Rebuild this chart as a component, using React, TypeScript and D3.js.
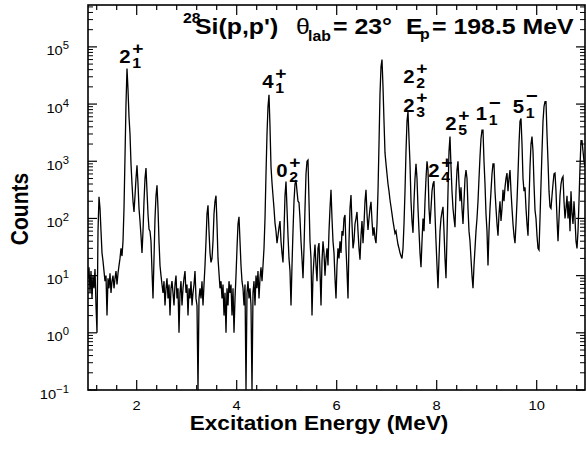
import React from "react";
import * as d3 from "d3";

const W = 586;
const H = 456;
const FONT = "'Liberation Sans', Arial, Helvetica, sans-serif";
const SX = 1.13; // horizontal stretch of the lettering

// spectrum: counts per channel, channel width in MeV
const channelWidth = 0.02;
const segStart = [1.026, 2.486, 4.546, 6.346, 8.206, 9.646];
const spec1 = [
  9, 14, 5, 12, 4, 10, 6, 13, 3, 1,
  60, 240, 150, 60, 25, 18,
  12, 8, 10, 2, 9, 6, 11, 5, 8, 10, 6, 9, 12, 7, 11,
  15, 20, 30, 22, 40,
  150, 1200, 10000, 42000, 18000, 6000, 3000, 900, 400, 200,
  130, 250, 500, 850, 400, 150, 90, 50, 25, 60, 200, 500, 760, 300, 120, 65, 60, 40, 12, 4, 20, 100, 250, 380, 150, 40, 15,
];
const spec2 = [
  10, 7, 5, 8, 3, 6, 9, 4, 7, 2, 6, 8, 5, 3, 7, 10, 4, 6, 1, 5, 8, 3, 6, 9, 12, 5, 7, 2, 6, 4, 8, 3, 5, 7, 12, 4,
  3, 0, 4,
  6, 4, 8, 3, 7, 15,
  40, 120, 170, 60, 25, 17, 20, 40, 120, 200, 250, 80, 20, 11,
  6, 8, 4, 7, 2, 5, 1, 6, 3, 8, 5, 7, 2, 6, 1, 4,
  10, 30, 80, 107, 40, 15, 8,
  6, 3, 7, 0, 5, 8, 4, 6, 3, 0,
  5, 8, 3, 10, 6, 12, 4, 9, 14, 8, 15,
];
const spec3 = [
  30, 100, 600, 3000, 9000, 14500, 4000, 800, 420, 250, 150, 83, 60, 37, 50,
  70, 90, 40, 25, 17, 60, 250, 440, 150, 50, 20, 12, 3,
  15, 60, 200, 400, 470, 300, 200, 190, 100, 40, 20, 9, 30, 150, 600, 1000, 1050, 200, 40, 20, 2,
  10, 20, 35, 15, 8, 30, 37, 12, 3, 18, 40, 25, 10, 20, 30, 15, 60, 150,
  316, 100, 40, 25, 9, 4, 15, 30, 20, 40, 25, 60, 50, 100, 115, 30, 12, 4, 40, 150, 257, 80, 30,
];
const spec4 = [
  40, 80, 100, 130, 60, 30, 19, 50, 90, 37, 80, 200, 316, 120, 63, 100, 150, 195, 90, 50, 70, 45, 37, 80,
  300, 2000, 15000, 45000, 60000, 20000, 5000, 1400, 900, 600, 400, 300, 210, 160, 120, 90, 70, 55, 60, 45, 35, 30, 25, 22, 20,
  30, 80, 300, 1500, 5000, 7400, 2500, 900, 200, 90, 56, 200, 500, 900, 500, 150, 60, 25, 14,
  40, 100, 60, 200, 500, 1000, 700, 150, 80, 150, 300, 400, 450, 120, 40, 15, 6, 20, 60, 100, 130, 160, 60, 20, 9,
];
const spec5 = [
  50, 300, 1500, 2700, 800, 300, 150, 100, 70, 300, 700, 1000, 400, 200, 350, 150, 80, 200, 500, 700, 500, 150, 60, 40, 20, 10, 6, 15, 30,
  60, 100, 200, 500, 1200, 2500, 3500, 3500, 1000, 400, 120, 60, 15, 60, 150, 300, 600, 900, 900, 300, 150, 80, 50,
  120, 200, 90, 150, 316, 200, 350, 500, 620, 300, 500, 700, 300, 150, 80, 50, 37, 80, 200, 600,
];
const spec6 = [
  2000, 5000, 5600, 2000, 500, 300, 350, 150, 80, 50, 200, 800, 2000, 2700, 1500, 400, 140, 100, 50, 30, 28,
  100, 400, 1500, 5000, 9000, 11000, 11000, 3000, 1000, 300, 160, 150, 250, 400, 600, 620, 300, 100, 40, 100, 250, 400, 500, 540, 200, 100,
  150, 250, 100, 200, 60, 300, 120, 80, 200, 100, 40, 30, 60, 200, 800, 2300, 2300, 1500, 1000, 800,
];
const segCounts = [spec1, spec2, spec3, spec4, spec5, spec6];

// axes
const xMajor = [2, 4, 6, 8, 10];
const xMinor = [1.2, 1.6, 2.4, 2.8, 3.2, 3.6, 4.4, 4.8, 5.2, 5.6, 6.4, 6.8, 7.2, 7.6, 8.4, 8.8, 9.2, 9.6, 10.4, 10.8];
const yDecades = [-1, 0, 1, 2, 3, 4, 5];
const yExpLabels = ["\u22121", "0", "1", "2", "3", "4", "5"];

// level labels
const labelSpin = ["2", "4", "0", "2", "2", "2", "1", "5", "2"];
const labelSub = ["1", "1", "2", "2", "3", "5", "1", "1", "4"];
const labelParity = ["+", "+", "+", "+", "+", "+", "\u2212", "\u2212", "+"];
const labelE = [1.65, 4.51, 4.79, 7.33, 7.33, 8.17, 8.78, 9.52, 7.83];
const labelCounts = [52000, 19000, 530, 23300, 7260, 3520, 5260, 6970, 530];

const L = 88, R = 585, T = 5, B = 390;

export default function App() {
  const x = d3.scaleLinear().domain([1.026, 10.966]).range([L, R]);
  const y = d3.scaleLog().domain([0.1, 5.4e5]).range([B, T]);

  const pts: [number, number][] = [];
  segCounts.forEach((arr, s) => {
    arr.forEach((c, i) => pts.push([segStart[s] + i * channelWidth, c]));
  });
  const line = d3
    .line<[number, number]>()
    .x((d) => x(d[0]))
    .y((d) => y(Math.max(d[1], 0.1)));

  const yMinor: number[] = [];
  yDecades.forEach((d) => {
    for (let m = 2; m <= 9; m++) {
      const v = m * Math.pow(10, d);
      if (v < 5.4e5) yMinor.push(v);
    }
  });

  const st = (tx: number, ty: number, extra = "") =>
    `translate(${tx},${ty}) scale(${SX},1)${extra}`;

  return (
    <svg width={W} height={H} style={{ position: "absolute", left: 0, top: 0, background: "#fff" }} fontFamily={FONT}>
      <defs>
        <clipPath id="plot">
          <rect x={L} y={T} width={R - L} height={B - T} />
        </clipPath>
      </defs>
      <rect x={0} y={0} width={W} height={H} fill="#fff" />
      <path d={line(pts) || ""} fill="none" stroke="#000" strokeWidth={1.3} clipPath="url(#plot)" />
      <rect x={L} y={T} width={R - L} height={B - T} fill="none" stroke="#000" strokeWidth={1.6} />
      {/* x ticks */}
      {xMajor.map((v) => (
        <g key={"xm" + v}>
          <line x1={x(v)} x2={x(v)} y1={B} y2={B - 10} stroke="#000" strokeWidth={1.2} />
          <line x1={x(v)} x2={x(v)} y1={T} y2={T + 10} stroke="#000" strokeWidth={1.2} />
          <text transform={st(x(v), 410)} fontSize={13} textAnchor="middle">{v}</text>
        </g>
      ))}
      {xMinor.map((v) => (
        <g key={"xn" + v}>
          <line x1={x(v)} x2={x(v)} y1={B} y2={B - 5} stroke="#000" strokeWidth={1.2} />
          <line x1={x(v)} x2={x(v)} y1={T} y2={T + 5} stroke="#000" strokeWidth={1.2} />
        </g>
      ))}
      {/* y ticks */}
      {yDecades.map((d, i) => {
        const yy = y(Math.pow(10, d));
        return (
          <g key={"yd" + d}>
            <line x1={L} x2={L + 9} y1={yy} y2={yy} stroke="#000" strokeWidth={1.2} />
            <line x1={R} x2={R - 9} y1={yy} y2={yy} stroke="#000" strokeWidth={1.2} />
            <text transform={st(69, yy + 8.5)} fontSize={13} textAnchor="end">
              10
              <tspan fontSize={10} dy={-6}>{yExpLabels[i]}</tspan>
            </text>
          </g>
        );
      })}
      {yMinor.map((v) => (
        <g key={"yn" + v}>
          <line x1={L} x2={L + 5} y1={y(v)} y2={y(v)} stroke="#000" strokeWidth={1} />
          <line x1={R} x2={R - 5} y1={y(v)} y2={y(v)} stroke="#000" strokeWidth={1} />
        </g>
      ))}
      {/* level labels */}
      {labelSpin.map((s, i) => {
        const lx = x(labelE[i]);
        const ly = y(labelCounts[i]);
        const plus = labelParity[i] === "+";
        return (
          <g key={"lab" + i} transform={st(lx, ly)} fontWeight="bold">
            <text fontSize={18}>{s}</text>
            <text x={11.5} y={plus ? -9 : -11} fontSize={plus ? 17 : 18}>{labelParity[i]}</text>
            <text x={11.5} y={5} fontSize={14}>{labelSub[i]}</text>
          </g>
        );
      })}
      {/* title */}
      <g fontWeight="bold">
        <text transform={st(183, 23)} fontSize={14}>28</text>
        <text transform={st(195, 34)} fontSize={22}>Si(p,p')</text>
        <text transform={st(296, 34)} fontSize={22} fontWeight="normal">θ</text>
        <text transform={st(308, 41)} fontSize={14}>lab</text>
        <text transform={st(333, 34)} fontSize={22}>= 23°</text>
        <text transform={st(406, 34)} fontSize={22}>E</text>
        <text transform={st(420, 39)} fontSize={14}>p</text>
        <text transform={st(432, 34)} fontSize={22}>= 198.5 MeV</text>
      </g>
      {/* axis titles */}
      <text transform={st(319, 430)} fontSize={20} fontWeight="bold" textAnchor="middle">Excitation Energy (MeV)</text>
      <text transform={`translate(28,209) scale(${SX},1) rotate(-90)`} fontSize={21} fontWeight="bold" textAnchor="middle">Counts</text>
    </svg>
  );
}
